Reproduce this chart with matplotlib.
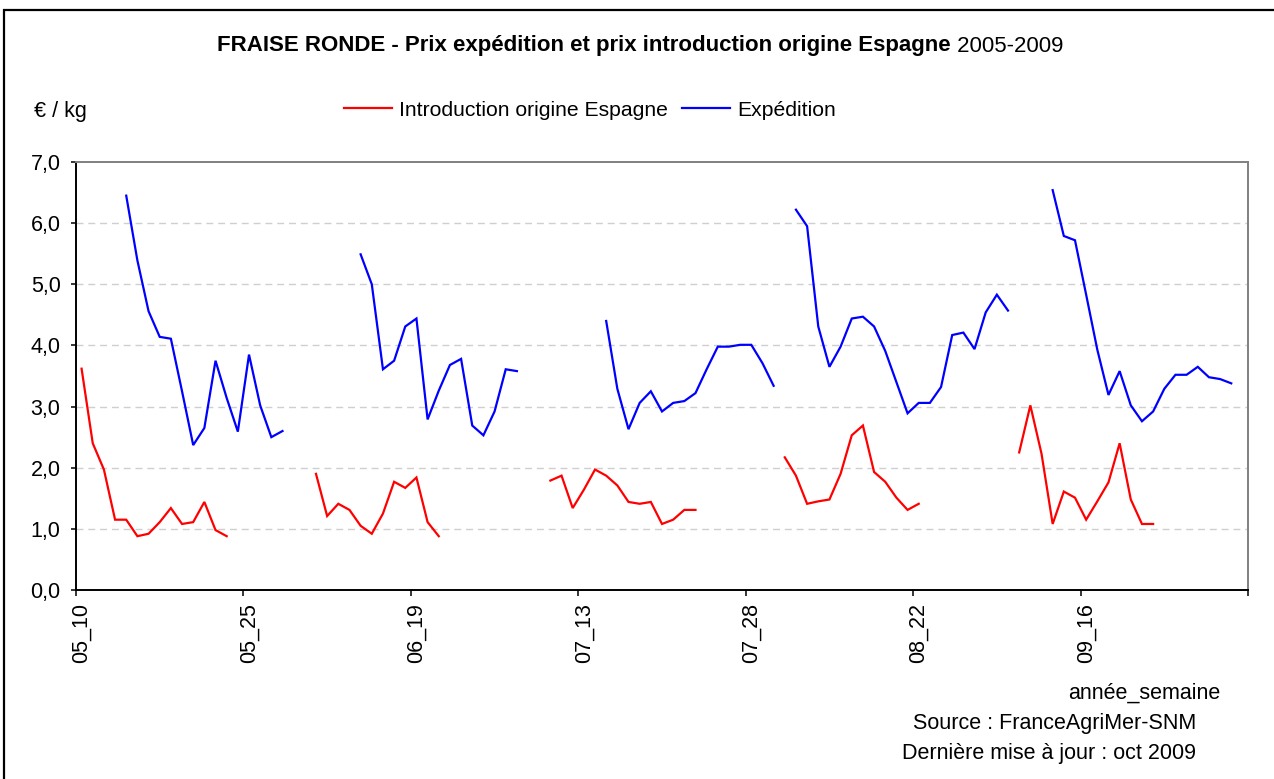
import numpy as np
import matplotlib
matplotlib.use("Agg")
import matplotlib.pyplot as plt
from matplotlib.patches import Rectangle
from matplotlib.lines import Line2D

plt.rcParams['font.family'] = ['Liberation Sans', 'DejaVu Sans']

# ---- data ----
years = ["05", "06", "07", "08", "09"]
weeks = list(range(10, 31))
categories = [f"{y}_{w}" for y in years for w in weeks]
label_every = 15

N = None
# Introduction origine Espagne (red), weeks 10..30 per year
intro_2005 = [3.62, 2.40, 1.97, 1.15, 1.15, 0.88, 0.92, 1.11, 1.34, 1.08, 1.11, 1.44, 0.98, 0.88,
              N, N, N, N, N, N, N]
intro_2006 = [1.90, 1.21, 1.41, 1.31, 1.05, 0.92, 1.25, 1.77, 1.67, 1.84, 1.11, 0.88,
              N, N, N, N, N, N, N, N, N]
intro_2007 = [1.79, 1.87, 1.34, 1.64, 1.97, 1.87, 1.71, 1.44, 1.41, 1.44, 1.08, 1.15, 1.31, 1.31,
              N, N, N, N, N, N, N]
intro_2008 = [2.17, 1.87, 1.41, 1.45, 1.48, 1.90, 2.53, 2.69, 1.93, 1.77, 1.51, 1.31, 1.41,
              N, N, N, N, N, N, N, N]
intro_2009 = [2.25, 3.02, 2.23, 1.08, 1.61, 1.51, 1.15, 1.45, 1.76, 2.40, 1.48, 1.08, 1.08,
              N, N, N, N, N, N, N, N]

# Expédition (blue), weeks 10..30 per year
exped_2005 = [N, N, N, N, 6.45, 5.39, 4.56, 4.14, 4.11, 3.25, 2.37, 2.65, 3.75, 3.14, 2.59,
              3.85, 3.02, 2.50, 2.60, N, N]
exped_2006 = [N, N, N, N, 5.49, 5.00, 3.61, 3.75, 4.31, 4.44, 2.79, 3.26, 3.68, 3.78, 2.69,
              2.53, 2.92, 3.61, 3.58, N, N]
exped_2007 = [N, N, N, N, N, 4.40, 3.29, 2.63, 3.06, 3.25, 2.92, 3.06, 3.09, 3.22, 3.61,
              3.98, 3.98, 4.01, 4.01, 3.71, 3.34]
exped_2008 = [N, 6.22, 5.95, 4.31, 3.65, 3.98, 4.44, 4.47, 4.31, 3.91, 3.40, 2.89, 3.06, 3.06,
              3.32, 4.17, 4.21, 3.94, 4.54, 4.83, 4.57]
exped_2009 = [N, N, N, 6.54, 5.79, 5.72, 4.83, 3.93, 3.19, 3.58, 3.02, 2.76, 2.92, 3.29,
              3.52, 3.52, 3.65, 3.48, 3.45, 3.38, N]

intro = intro_2005 + intro_2006 + intro_2007 + intro_2008 + intro_2009
exped = exped_2005 + exped_2006 + exped_2007 + exped_2008 + exped_2009

y_ticks = [0, 1, 2, 3, 4, 5, 6, 7]

# ---- figure ----
W, H = 1274, 779
fig = plt.figure(figsize=(W / 100, H / 100), dpi=100)
fig.patch.set_facecolor('white')

def fx(px):
    return px / W

def fy(py):
    return 1 - py / H

FS = 15.5

# outer border
fig.add_artist(Rectangle((fx(4), fy(790)), fx(1300) - fx(4), fy(10) - fy(790),
                         transform=fig.transFigure, fill=False, edgecolor='black',
                         linewidth=1.6, clip_on=False))

ax = fig.add_axes([fx(76), fy(590), fx(1248) - fx(76), fy(162) - fy(590)])

x = np.arange(len(categories))
intro_arr = np.array([np.nan if v is None else v for v in intro], dtype=float)
exped_arr = np.array([np.nan if v is None else v for v in exped], dtype=float)

ax.plot(x, intro_arr, color='#ff0000', linewidth=1.6, label='Introduction origine Espagne',
        solid_joinstyle='miter')
ax.plot(x, exped_arr, color='#0000ff', linewidth=1.6, label='Expédition',
        solid_joinstyle='miter')

ax.set_xlim(-0.5, len(categories) - 0.5)
ax.set_ylim(0, 7)

# y axis
ax.set_yticks(y_ticks)
ax.set_yticklabels([f"{v:.1f}".replace('.', ',') for v in y_ticks], fontsize=FS)
ax.tick_params(axis='y', direction='out', length=3.6, width=1.1, pad=7.5, color='black')

# x axis: tick marks at category boundaries every 15, labels at category centers
bound_ticks = np.arange(-0.5, len(categories), label_every)
ax.set_xticks(bound_ticks)
ax.set_xticklabels([])
ax.tick_params(axis='x', which='major', direction='out', length=4.5, width=1.1, color='black')
lab_idx = np.arange(0, len(categories), label_every)
ax.set_xticks(lab_idx, minor=True)
ax.set_xticklabels([categories[i] for i in lab_idx], minor=True, rotation=90,
                   fontsize=FS, va='top', ha='center')
ax.tick_params(axis='x', which='minor', length=0, pad=9.5)

# grid
for v in y_ticks[1:-1]:
    ax.axhline(v, color='#cfcfcf', linewidth=1.0, linestyle=(0, (5, 3.5)), zorder=0)

for s in ['left', 'bottom']:
    ax.spines[s].set_color('black')
    ax.spines[s].set_linewidth(1.4)
for s in ['top', 'right']:
    ax.spines[s].set_color('#808080')
    ax.spines[s].set_linewidth(1.4)

# title: bold part + regular part, centered
renderer = fig.canvas.get_renderer()
t1 = fig.text(0, fy(46), "FRAISE RONDE - Prix expédition et prix introduction origine Espagne",
              fontsize=16, fontweight='bold', va='center', ha='left')
t2 = fig.text(0, fy(46), " 2005-2009", fontsize=16, va='center', ha='left')
w1 = t1.get_window_extent(renderer).width
w2 = t2.get_window_extent(renderer).width
start = 640 - (w1 + w2) / 2
t1.set_x(fx(start))
t2.set_x(fx(start + w1))

# legend
fig.legend(handles=[Line2D([], [], color='#ff0000', linewidth=1.6),
                    Line2D([], [], color='#0000ff', linewidth=1.6)],
           labels=['Introduction origine Espagne', 'Expédition'],
           loc='center', bbox_to_anchor=(fx(590), fy(110)), ncol=2, frameon=False,
           fontsize=15.2, handlelength=2.27, handletextpad=0.33, columnspacing=0.66,
           borderpad=0, borderaxespad=0)

fig.text(fx(34), fy(111), "€ / kg", fontsize=FS, va='center', ha='left')

fig.text(fx(1220), fy(693), "année_semaine", fontsize=FS, va='center', ha='right')
fig.text(fx(1196), fy(723), "Source : FranceAgriMer-SNM", fontsize=FS, va='center', ha='right')
fig.text(fx(1196), fy(753), "Dernière mise à jour : oct 2009", fontsize=FS, va='center', ha='right')

fig.savefig("out.png", dpi=100, facecolor='white')
